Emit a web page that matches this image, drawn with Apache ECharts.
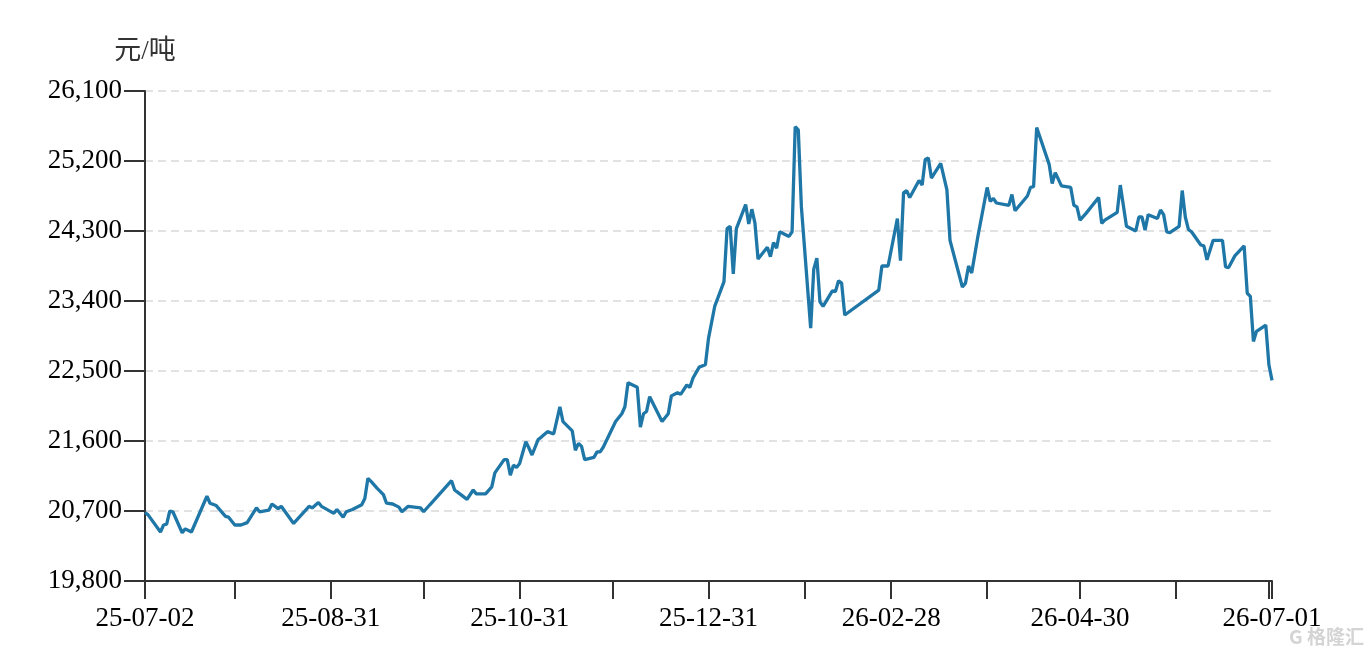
<!DOCTYPE html>
<html>
<head>
<meta charset="utf-8">
<script src="https://cdn.jsdelivr.net/npm/echarts@6/dist/echarts.min.js"></script>
<style>
  html, body { margin: 0; padding: 0; background: #fff; }
  #price-chart { width: 1370px; height: 652px; }
</style>
</head>
<body>
<div id="price-chart"></div>
<script>
// trading dates and prices (元/吨)
const dates = [
  '2025-07-02','2025-07-03','2025-07-07','2025-07-08','2025-07-09','2025-07-10','2025-07-11','2025-07-14','2025-07-15','2025-07-17',
  '2025-07-22','2025-07-23','2025-07-25','2025-07-28','2025-07-29','2025-07-31','2025-08-02','2025-08-04','2025-08-07','2025-08-08',
  '2025-08-11','2025-08-12','2025-08-14','2025-08-15','2025-08-19','2025-08-24','2025-08-25','2025-08-27','2025-08-28','2025-09-01',
  '2025-09-02','2025-09-04','2025-09-05','2025-09-07','2025-09-10','2025-09-11','2025-09-12','2025-09-13','2025-09-15','2025-09-17',
  '2025-09-18','2025-09-20','2025-09-22','2025-09-23','2025-09-25','2025-09-27','2025-09-29','2025-09-30','2025-10-02','2025-10-09',
  '2025-10-10','2025-10-12','2025-10-14','2025-10-16','2025-10-17','2025-10-20','2025-10-22','2025-10-23','2025-10-26','2025-10-27',
  '2025-10-28','2025-10-29','2025-10-30','2025-10-31','2025-11-02','2025-11-03','2025-11-04','2025-11-06','2025-11-07','2025-11-09',
  '2025-11-11','2025-11-13','2025-11-14','2025-11-17','2025-11-18','2025-11-19','2025-11-20','2025-11-21','2025-11-24','2025-11-25',
  '2025-11-26','2025-11-27','2025-12-01','2025-12-03','2025-12-04','2025-12-05','2025-12-08','2025-12-09','2025-12-10','2025-12-11',
  '2025-12-12','2025-12-16','2025-12-18','2025-12-19','2025-12-21','2025-12-22','2025-12-24','2025-12-25','2025-12-26','2025-12-28',
  '2025-12-30','2025-12-31','2026-01-02','2026-01-05','2026-01-06','2026-01-07','2026-01-08','2026-01-09','2026-01-12','2026-01-13',
  '2026-01-14','2026-01-15','2026-01-16','2026-01-19','2026-01-20','2026-01-21','2026-01-22','2026-01-23','2026-01-26','2026-01-27',
  '2026-01-28','2026-01-29','2026-01-30','2026-02-02','2026-02-03','2026-02-04','2026-02-05','2026-02-06','2026-02-09','2026-02-10',
  '2026-02-11','2026-02-12','2026-02-13','2026-02-24','2026-02-25','2026-02-27','2026-03-02','2026-03-03','2026-03-04','2026-03-05',
  '2026-03-06','2026-03-09','2026-03-10','2026-03-11','2026-03-12','2026-03-13','2026-03-16','2026-03-18','2026-03-19','2026-03-23',
  '2026-03-24','2026-03-25','2026-03-26','2026-03-28','2026-03-31','2026-04-01','2026-04-02','2026-04-03','2026-04-07','2026-04-08',
  '2026-04-09','2026-04-13','2026-04-14','2026-04-15','2026-04-16','2026-04-20','2026-04-21','2026-04-22','2026-04-24','2026-04-27',
  '2026-04-28','2026-04-29','2026-04-30','2026-05-02','2026-05-06','2026-05-07','2026-05-08','2026-05-12','2026-05-13','2026-05-15',
  '2026-05-18','2026-05-19','2026-05-20','2026-05-21','2026-05-22','2026-05-25','2026-05-26','2026-05-27','2026-05-28','2026-05-29',
  '2026-06-01','2026-06-02','2026-06-03','2026-06-04','2026-06-05','2026-06-08','2026-06-09','2026-06-10','2026-06-12','2026-06-15',
  '2026-06-16','2026-06-17','2026-06-19','2026-06-22','2026-06-23','2026-06-24','2026-06-25','2026-06-26','2026-06-29','2026-06-30',
  '2026-07-01'
];
const prices = [
  20680,20650,20430,20520,20530,20700,20690,20420,20470,20430,
  20890,20800,20770,20630,20620,20520,20520,20550,20740,20690,
  20710,20790,20730,20760,20540,20760,20740,20810,20760,20670,
  20720,20620,20690,20720,20780,20860,21120,21080,20990,20910,
  20800,20790,20750,20690,20760,20750,20740,20690,20780,21090,
  20970,20910,20850,20970,20920,20920,21010,21190,21360,21360,
  21160,21290,21260,21310,21590,21510,21420,21620,21650,21720,
  21690,22040,21850,21730,21480,21570,21530,21360,21390,21460,
  21460,21520,21850,21950,22040,22350,22290,21780,21950,21980,
  22170,21850,21950,22180,22220,22200,22320,22290,22410,22550,
  22580,22920,23330,23650,24330,24360,23750,24330,24640,24390,
  24580,24400,23940,24090,23970,24150,24080,24290,24230,24290,
  25640,25600,24610,23050,23810,23950,23390,23330,23530,23520,
  23660,23630,23220,23540,23850,23850,24460,23920,24790,24820,
  24730,24950,24890,25220,25240,24980,25170,24830,24180,23580,
  23630,23850,23760,24230,24860,24680,24720,24660,24630,24770,
  24560,24750,24860,24870,25630,25160,24910,25050,24880,24860,
  24630,24610,24440,24530,24730,24400,24440,24540,24890,24360,
  24300,24480,24480,24310,24510,24460,24570,24510,24290,24280,
  24360,24820,24480,24320,24290,24120,24110,23930,24180,24180,
  23840,23830,23980,24110,23500,23460,22880,23010,23090,22580,
  22380
];
const tickDates = [
  '2025-07-02','2025-07-31','2025-08-31','2025-09-30','2025-10-31','2025-11-30','2025-12-31',
  '2026-01-31','2026-02-28','2026-03-31','2026-04-30','2026-05-31','2026-06-30','2026-07-01'
];
const labelDates = ['2025-07-02','2025-08-31','2025-10-31','2025-12-31','2026-02-28','2026-04-30','2026-07-01'];
const yMin = 19800, yMax = 26100, yStep = 900;

const startUTC = Date.UTC(2025, 6, 2);
function dayIndex(s) {
  const p = s.split('-').map(Number);
  return Math.round((Date.UTC(p[0], p[1] - 1, p[2]) - startUTC) / 86400000);
}
function dayLabel(v) {
  const t = new Date(startUTC + Math.round(v) * 86400000);
  const pad = n => String(n).padStart(2, '0');
  return pad(t.getUTCFullYear() % 100) + '-' + pad(t.getUTCMonth() + 1) + '-' + pad(t.getUTCDate());
}

const serif = "'Liberation Serif', 'Times New Roman', serif";
const axisColor = '#333';

let myChart = echarts.init(document.getElementById('price-chart'), null, { renderer: 'canvas' });
let option = {
  animation: false,
  grid: { left: 145, right: 98, top: 91, bottom: 71, containLabel: false, outerBoundsMode: 'none' },
  xAxis: {
    type: 'value',
    min: 0,
    max: dayIndex(tickDates[tickDates.length - 1]),
    axisLine: { show: true, onZero: false, lineStyle: { color: axisColor, width: 2 } },
    axisTick: { show: true, length: 18, customValues: tickDates.map(dayIndex), lineStyle: { color: axisColor, width: 2 } },
    axisLabel: {
      customValues: labelDates.map(dayIndex),
      formatter: dayLabel,
      margin: 24,
      color: '#000',
      fontSize: 27,
      fontFamily: serif
    },
    splitLine: { show: false }
  },
  yAxis: {
    type: 'value',
    min: yMin,
    max: yMax,
    interval: yStep,
    name: '元/吨',
    nameLocation: 'end',
    nameGap: 26,
    nameTextStyle: { color: '#333', fontSize: 27, fontFamily: "'Liberation Serif', 'Noto Sans CJK SC', serif", align: 'center' },
    axisLine: { show: true, lineStyle: { color: axisColor, width: 2 } },
    axisTick: { show: true, length: 21, lineStyle: { color: axisColor, width: 2 } },
    axisLabel: {
      margin: 23,
      color: '#000',
      fontSize: 27,
      fontFamily: serif,
      formatter: v => v.toLocaleString('en-US')
    },
    splitLine: { show: true, lineStyle: { color: '#d9d9d9', width: 1.5, type: [8, 5] } }
  },
  graphic: [
    {
      type: 'text',
      right: 6,
      bottom: 6,
      style: { text: 'G 格隆汇', fill: '#d4d4d4', font: "bold 19px 'Noto Sans CJK SC', sans-serif" }
    }
  ],
  series: [
    {
      type: 'line',
      data: dates.map((d, i) => [dayIndex(d), prices[i]]),
      showSymbol: false,
      smooth: false,
      lineStyle: { color: '#1f77a7', width: 3.3 },
      itemStyle: { color: '#1f77a7' }
    }
  ]
};

option && myChart.setOption(option);
</script>
</body>
</html>
